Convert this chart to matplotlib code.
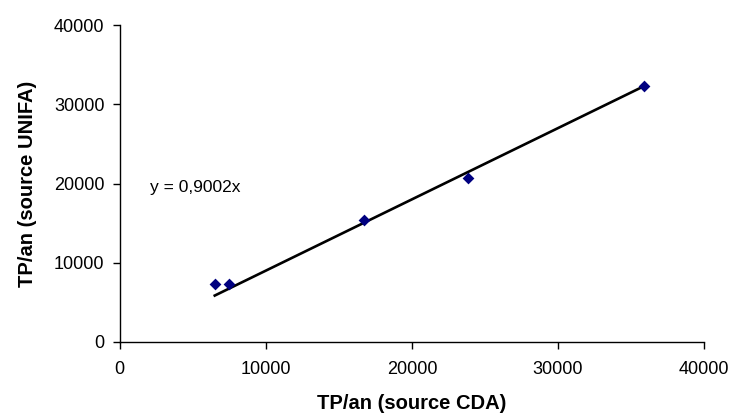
import numpy as np
import matplotlib
matplotlib.use('Agg')
import matplotlib.pyplot as plt

plt.rcParams['font.family'] = ['Liberation Sans', 'DejaVu Sans']

# TP/an : source CDA vs source UNIFA
cda = [6500, 7500, 16700, 23850, 35850]
unifa = [7300, 7300, 15450, 20650, 32300]
slope = 0.9002
eq_text = 'y = 0,9002x'

fig = plt.figure(figsize=(7.35, 4.2), dpi=100)
ax = fig.add_axes([0.163, 0.186, 0.795, 0.754])

xs = np.array([min(cda), max(cda)])
ax.plot(xs, slope * xs, color='black', lw=1.9, zorder=2)
ax.scatter(cda, unifa, marker='D', s=36, color='#000080', zorder=3, linewidths=0)

ax.text(2050, 19500, eq_text, fontsize=12.5, va='center', ha='left')

ax.set_xlim(0, 40000)
ax.set_ylim(0, 40000)
ax.set_xticks([0, 10000, 20000, 30000, 40000])
ax.set_yticks([0, 10000, 20000, 30000, 40000])
ax.tick_params(direction='out', length=5, width=1, labelsize=13)
ax.tick_params(axis='x', pad=9)
ax.tick_params(axis='y', pad=6)
for s in ['top', 'right']:
    ax.spines[s].set_visible(False)
for s in ['left', 'bottom']:
    ax.spines[s].set_linewidth(1)

ax.set_xlabel('TP/an (source CDA)', fontsize=14.5, fontweight='bold', labelpad=11)
ax.set_ylabel('TP/an (source UNIFA)', fontsize=14.5, fontweight='bold', labelpad=12)

fig.savefig('out.png', dpi=100)
